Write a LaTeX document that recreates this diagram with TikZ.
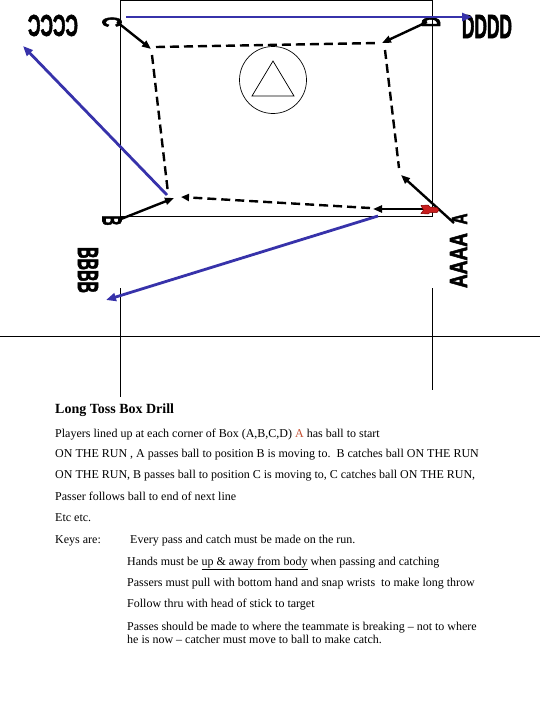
\documentclass[tikz,border=0pt]{standalone}
\usepackage{fontspec}
\setmainfont{Liberation Serif}
\setsansfont{Liberation Sans}
\newfontfamily\heavyfont{Liberation Sans}[BoldFeatures={FakeBold=2.5}]
\usetikzlibrary{arrows.meta}
\definecolor{passblue}{RGB}{55,50,170}
\definecolor{redA}{RGB}{195,80,50}
\definecolor{stickred}{RGB}{200,30,30}
\newcommand{\heavylbl}[3]{\resizebox{#1pt}{#2pt}{\heavyfont\bfseries #3}}
\begin{document}
\begin{tikzpicture}[x=1pt,y=-1pt,
  blueline/.style={draw=passblue,line width=2.8pt,-{Triangle[length=10pt,width=8pt]}},
  runline/.style={draw=black,line width=2.4pt,-{Triangle[length=9pt,width=7pt]}},
  dashline/.style={draw=black,line width=2.4pt,dash pattern=on 9pt off 5pt},
  dasharrow/.style={dashline,-{Triangle[length=8pt,width=7pt]}},
  frameline/.style={draw=black,line width=0.9pt},
  txt/.style={anchor=base west,inner sep=0pt,font=\fontsize{12}{14}\selectfont},
  ttl/.style={anchor=base west,inner sep=0pt,font=\fontsize{14}{16}\selectfont\bfseries},
  big/.style={inner sep=0pt,outer sep=0pt}]
\useasboundingbox (0,0) rectangle (540,720);
% frame and field lines
\draw[frameline] (120,0.5) rectangle (432,216);
\draw[frameline] (120,288) -- (120,397);
\draw[frameline] (432,288) -- (432,390);
\draw[frameline] (0,336) -- (540,336);
% centre circle and triangle
\node[draw,circle,minimum size=67pt,inner sep=0pt,line width=0.7pt] (ctr) at (273,80) {};
\draw[line width=0.7pt] (273,61) -- (252,96) -- (294,96) -- cycle;
% big labels
\node[big] (cccc) at (53,25.5) {\rotatebox{180}{\heavylbl{50}{21}{CCCC}}};
\node[big] (dddd) at (487,26.5) {\heavylbl{50}{23}{DDDD}};
\node[big] (aaaa) at (458.5,260.5) {\rotatebox{90}{\heavylbl{55}{17}{AAAA}}};
\node[big] (bbbb) at (88,270) {\rotatebox{-90}{\heavylbl{46}{20}{BBBB}}};
\node[big] (lc) at (112,22) {\rotatebox{-90}{\heavylbl{10}{19}{C}}};
\node[big] (ld) at (431,22) {\rotatebox{90}{\heavylbl{10}{18}{D}}};
\node[big] (lb) at (112,220.5) {\rotatebox{-90}{\heavylbl{10}{19}{B}}};
\node[big] (la) at (459.5,219) {\rotatebox{90}{\heavylbl{11}{15}{A}}};
% coordinates
\coordinate (C0) at (117,22);  \coordinate (C1) at (151,49);
\coordinate (D0) at (427,22);  \coordinate (D1) at (382,43);
\coordinate (B0) at (121,219); \coordinate (B1) at (174,198);
\coordinate (A0) at (454,223); \coordinate (A1) at (401,175);
\coordinate (S0) at (424,209); \coordinate (S1) at (373,209);
\coordinate (T0) at (156,47);  \coordinate (T1) at (378,43);
\coordinate (L0) at (152,55);  \coordinate (L1) at (168,193);
\coordinate (R0) at (385,50);  \coordinate (R1) at (399,168);
\coordinate (M0) at (370,208); \coordinate (M1) at (181,197);
\coordinate (P0) at (126,17);  \coordinate (P1) at (472,17);
\coordinate (Q0) at (167,195); \coordinate (Q1) at (23,46);
\coordinate (U0) at (378,216); \coordinate (U1) at (106,300);
% dashed runs
\draw[dashline] (T0) -- (T1);
\draw[dashline] (L0) -- (L1);
\draw[dashline] (R0) -- (R1);
\draw[dasharrow] (M0) -- (M1);
% solid runs
\draw[runline] (C0) -- (C1);
\draw[runline] (D0) -- (D1);
\draw[runline] (B0) -- (B1);
\draw[runline] (A0) -- (A1);
\draw[runline] (S0) -- (S1);
% passes
\draw[blueline] (P0) -- (P1);
\draw[blueline] (Q0) -- (Q1);
\draw[blueline] (U0) -- (U1);
% stick
\draw[fill=stickred,draw=red!50!black,line width=0.5pt] (421,205.5) -- (428,205) -- (430,207) -- (437,207.5) -- (439,210) -- (437,212.5) -- (430,212.5) -- (428,214) -- (421,213.5) -- (423.5,210) -- cycle;
% text
\node[ttl] (t0) at (55,413) {Long Toss Box Drill};
\node[txt] (t1) at (55,437) {Players lined up at each corner of Box (A,B,C,D) {\color{redA}A} has ball to start};
\node[txt] (t2) at (55,457.5) {ON THE RUN , A passes ball to position B is moving to.\ \ B catches ball ON THE RUN};
\node[txt] (t3) at (55,478.5) {ON THE RUN, B passes ball to position C is moving to, C catches ball ON THE RUN,};
\node[txt] (t4) at (55,500) {Passer follows ball to end of next line};
\node[txt] (t5) at (55,521.5) {Etc etc.};
\node[txt] (t6) at (55,543) {Keys are:};
\node[txt] (t7) at (130,543) {Every pass and catch must be made on the run.};
\node[txt] (t8) at (127,565) {Hands must be \underline{up \& away from body} when passing and catching};
\node[txt] (t9) at (127,586) {Passers must pull with bottom hand and snap wrists\ \ to make long throw};
\node[txt] (t10) at (127,607.5) {Follow thru with head of stick to target};
\node[txt] (t11) at (127,630) {Passes should be made to where the teammate is breaking – not to where};
\node[txt] (t12) at (127,643.5) {he is now – catcher must move to ball to make catch.};
\end{tikzpicture}
\end{document}
